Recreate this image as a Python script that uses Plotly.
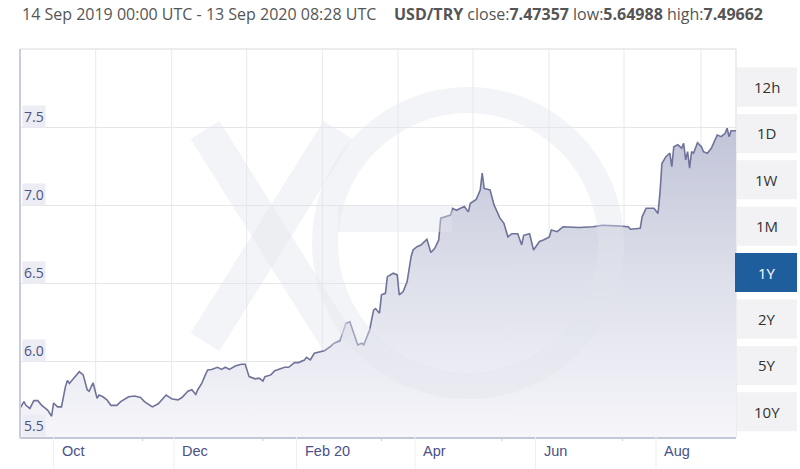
import plotly.graph_objects as go

# ---------------- data ----------------
dates = [
    "2019-09-14", "2019-09-16", "2019-09-17", "2019-09-19", "2019-09-21", "2019-09-23", "2019-09-25",
    "2019-09-28", "2019-09-30", "2019-10-01", "2019-10-03", "2019-10-05", "2019-10-07", "2019-10-08",
    "2019-10-09", "2019-10-11", "2019-10-13", "2019-10-14", "2019-10-16", "2019-10-18", "2019-10-19",
    "2019-10-21", "2019-10-23", "2019-10-24", "2019-10-26", "2019-10-28", "2019-10-30", "2019-11-02",
    "2019-11-04", "2019-11-08", "2019-11-11", "2019-11-14", "2019-11-16", "2019-11-20", "2019-11-23",
    "2019-11-27", "2019-11-30", "2019-12-03", "2019-12-05", "2019-12-08", "2019-12-10", "2019-12-12",
    "2019-12-13", "2019-12-15", "2019-12-17", "2019-12-18", "2019-12-20", "2019-12-23", "2019-12-25",
    "2019-12-27", "2019-12-29", "2020-01-01", "2020-01-04", "2020-01-06", "2020-01-08", "2020-01-11",
    "2020-01-13", "2020-01-15", "2020-01-16", "2020-01-19", "2020-01-21", "2020-01-23", "2020-01-26",
    "2020-01-28", "2020-01-31", "2020-02-02", "2020-02-05", "2020-02-06", "2020-02-08", "2020-02-10",
    "2020-02-13", "2020-02-15", "2020-02-18", "2020-02-20", "2020-02-23", "2020-02-24", "2020-02-26",
    "2020-02-28", "2020-03-01", "2020-03-03", "2020-03-05", "2020-03-06", "2020-03-09", "2020-03-11",
    "2020-03-12", "2020-03-14", "2020-03-15", "2020-03-17", "2020-03-18", "2020-03-21", "2020-03-23",
    "2020-03-24", "2020-03-26", "2020-03-28", "2020-03-30", "2020-03-31", "2020-04-02", "2020-04-04",
    "2020-04-07", "2020-04-09", "2020-04-11", "2020-04-13", "2020-04-14", "2020-04-17", "2020-04-19",
    "2020-04-20", "2020-04-22", "2020-04-24", "2020-04-26", "2020-04-28", "2020-04-29", "2020-05-02",
    "2020-05-04", "2020-05-05", "2020-05-06", "2020-05-09", "2020-05-11", "2020-05-14", "2020-05-16",
    "2020-05-18", "2020-05-20", "2020-05-23", "2020-05-25", "2020-05-26", "2020-05-29", "2020-05-31",
    "2020-06-03", "2020-06-05", "2020-06-08", "2020-06-09", "2020-06-12", "2020-06-15", "2020-06-23",
    "2020-06-30", "2020-07-05", "2020-07-12", "2020-07-18", "2020-07-19", "2020-07-24", "2020-07-25",
    "2020-07-27", "2020-07-31", "2020-08-02", "2020-08-03", "2020-08-04", "2020-08-06", "2020-08-08",
    "2020-08-09", "2020-08-10", "2020-08-12", "2020-08-14", "2020-08-15", "2020-08-16", "2020-08-17",
    "2020-08-18", "2020-08-19", "2020-08-20", "2020-08-22", "2020-08-24", "2020-08-25", "2020-08-27",
    "2020-08-29", "2020-08-30", "2020-09-01", "2020-09-03", "2020-09-05", "2020-09-06", "2020-09-07",
    "2020-09-08", "2020-09-11", "2020-09-13",
]
rates = [
    5.700, 5.744, 5.720, 5.700, 5.750, 5.750, 5.720,
    5.690, 5.650, 5.735, 5.710, 5.710, 5.840, 5.880,
    5.860, 5.890, 5.915, 5.936, 5.915, 5.820, 5.810,
    5.865, 5.765, 5.786, 5.775, 5.755, 5.720, 5.720,
    5.744, 5.775, 5.780, 5.770, 5.744, 5.710, 5.730,
    5.786, 5.760, 5.755, 5.770, 5.810, 5.820, 5.790,
    5.820, 5.860, 5.920, 5.947, 5.950, 5.964, 5.950,
    5.964, 5.950, 5.972, 5.983, 5.983, 5.904, 5.890,
    5.894, 5.876, 5.904, 5.915, 5.942, 5.950, 5.964,
    5.964, 5.994, 5.994, 6.010, 6.028, 6.011, 6.054,
    6.064, 6.069, 6.096, 6.118, 6.135, 6.170, 6.246,
    6.256, 6.182, 6.107, 6.118, 6.107, 6.203, 6.330,
    6.340, 6.310, 6.428, 6.438, 6.545, 6.567, 6.556,
    6.428, 6.449, 6.513, 6.673, 6.716, 6.737, 6.748,
    6.785, 6.700, 6.727, 6.780, 6.920, 6.930, 6.940,
    6.983, 6.970, 6.983, 6.994, 6.960, 7.015, 7.040,
    7.100, 7.208, 7.110, 7.100, 7.005, 6.920, 6.887,
    6.800, 6.820, 6.820, 6.748, 6.810, 6.820, 6.716,
    6.770, 6.780, 6.800, 6.844, 6.833, 6.865, 6.860,
    6.865, 6.874, 6.870, 6.865, 6.849, 6.855, 6.930,
    6.983, 6.983, 6.950, 7.080, 7.270, 7.314, 7.336,
    7.250, 7.378, 7.390, 7.368, 7.400, 7.293, 7.346,
    7.240, 7.346, 7.336, 7.404, 7.378, 7.346, 7.336,
    7.368, 7.400, 7.453, 7.442, 7.464, 7.496, 7.442,
    7.480, 7.480, 7.47357,
]

y_ticks = [6.0, 6.5, 7.0, 7.5]
y_labels = ["6.0", "6.5", "7.0", "7.5"]
y_bottom_label = "5.5"
x_tick_dates = ["2019-10-01", "2019-12-01", "2020-02-01", "2020-04-01", "2020-06-01", "2020-08-01"]
x_tick_labels = ["Oct", "Dec", "Feb 20", "Apr", "Jun", "Aug"]
x_minor_dates = ["2019-11-15", "2020-01-15", "2020-03-15", "2020-05-15", "2020-07-15"]
buttons = ["12h", "1D", "1W", "1M", "1Y", "2Y", "5Y", "10Y"]
active_button = "1Y"
header_range = "14 Sep 2019 00:00 UTC - 13 Sep 2020 08:28 UTC"
header_stats = "<b>USD/TRY</b> close:<b>7.47357</b> low:<b>5.64988</b> high:<b>7.49662</b>"

# ---------------- layout geometry (page pixels) ----------------
W, H = 800, 469
L, R, T, B = 20, 736, 49, 437
PW, PH = R - L, B - T


def px(x):
    return (x - L) / PW


def py(y):
    return (B - y) / PH


FONT = "Open Sans, Noto Sans, sans-serif"
shapes = []
annotations = []

# vertical gridlines
for gx in [95.7, 171.7, 246.7, 322.3, 398, 473, 549, 624, 701]:
    shapes.append(dict(type="line", xref="paper", yref="paper", x0=px(gx), x1=px(gx), y0=0, y1=1,
                       line=dict(color="#e8e8ea", width=1), layer="below"))
# border top/right
shapes.append(dict(type="line", xref="paper", yref="paper", x0=0, x1=1, y0=1, y1=1,
                   line=dict(color="#e6e6e8", width=1.5), layer="below"))
shapes.append(dict(type="line", xref="paper", yref="paper", x0=1, x1=1, y0=0, y1=1,
                   line=dict(color="#e6e6e8", width=1.5), layer="below"))

# watermark (xe logo), translucent
wm = "rgba(226,228,237,0.42)"
shapes.append(dict(type="circle", xref="paper", yref="paper",
                   x0=px(468 - 143), x1=px(468 + 143), y0=py(243 + 143), y1=py(243 - 143),
                   line=dict(color=wm, width=26), layer="above"))
shapes.append(dict(type="rect", xref="paper", yref="paper",
                   x0=px(338), x1=px(452), y0=py(232), y1=py(206),
                   fillcolor=wm, line=dict(width=0), layer="above"))
shapes.append(dict(type="line", xref="paper", yref="paper",
                   x0=px(205), x1=px(338), y0=py(130), y1=py(342),
                   line=dict(color=wm, width=34), layer="above"))
shapes.append(dict(type="line", xref="paper", yref="paper",
                   x0=px(338), x1=px(205), y0=py(130), y1=py(342),
                   line=dict(color=wm, width=34), layer="above"))

# left axis line
shapes.append(dict(type="line", xref="paper", yref="paper", x0=0, x1=0, y0=py(438), y1=1,
                   line=dict(color="#c9cce0", width=2), layer="above"))

# month separator lines and minor ticks under axis
for d in x_tick_dates:
    shapes.append(dict(type="line", xref="x", yref="paper", x0=d, x1=d, y0=py(H), y1=0,
                       line=dict(color="#efeff1", width=1)))
for d in x_minor_dates:
    shapes.append(dict(type="line", xref="x", yref="paper", x0=d, x1=d, y0=py(441), y1=0,
                       line=dict(color="#c8cad6", width=1)))

# x labels
for d, t in zip(x_tick_dates, x_tick_labels):
    annotations.append(dict(x=d, y=py(451), xref="x", yref="paper", text=t, showarrow=False,
                            xanchor="left", yanchor="middle", xshift=6,
                            font=dict(family="Liberation Sans Narrow, Arial, sans-serif", size=14.5,
                                      color="#4a5088")))

# y labels inside plot
for v, t in zip(y_ticks, y_labels):
    annotations.append(dict(x=px(22), y=v, xref="paper", yref="y", text=t, showarrow=False,
                            xanchor="left", yanchor="bottom", yshift=0,
                            bgcolor="#ebecf4", borderpad=1,
                            font=dict(family=FONT, size=14, color="#4d5282")))
annotations.append(dict(x=px(22), y=py(437), xref="paper", yref="paper", text=y_bottom_label,
                        showarrow=False, xanchor="left", yanchor="bottom",
                        bgcolor="#ebecf4", borderpad=1,
                        font=dict(family=FONT, size=14, color="#4d5282")))

# header
annotations.append(dict(x=px(20), y=py(14), xref="paper", yref="paper", text=header_range,
                        showarrow=False, xanchor="left", yanchor="middle",
                        font=dict(family=FONT, size=16, color="#555555")))
annotations.append(dict(x=px(392), y=py(14), xref="paper", yref="paper", text=header_stats,
                        showarrow=False, xanchor="left", yanchor="middle",
                        font=dict(family=FONT, size=16, color="#555555")))

# range buttons
for i, b in enumerate(buttons):
    cy = 87 + i * 46.4
    active = b == active_button
    shapes.append(dict(type="rect", xref="paper", yref="paper",
                       x0=px(735 if active else 737), x1=px(797),
                       y0=py(cy + 19.5), y1=py(cy - 19.5),
                       fillcolor="#1f5e9c" if active else "#f2f2f4", line=dict(width=0), layer="above"))
    annotations.append(dict(x=px(766.5), y=py(cy), xref="paper", yref="paper", text=b, showarrow=False,
                            xanchor="center", yanchor="middle",
                            font=dict(family=FONT, size=15, color="#ffffff" if active else "#333333")))

fig = go.Figure()
fig.add_trace(go.Scatter(x=dates, y=[5.4] * len(dates), mode="lines", line=dict(width=0),
                         hoverinfo="skip", showlegend=False))
fig.add_trace(go.Scatter(
    x=dates, y=rates, mode="lines", fill="tonexty",
    line=dict(color="#6f7399", width=1.6),
    fillgradient=dict(type="vertical", start=5.5, stop=7.6,
                      colorscale=[[0, "rgba(246,246,250,1)"], [0.5, "rgba(221,223,234,1)"],
                                  [1, "rgba(190,193,214,1)"]]),
    showlegend=False, name="USD/TRY"))

fig.update_layout(
    width=W, height=H,
    margin=dict(l=L, r=W - R, t=T, b=H - B),
    paper_bgcolor="white", plot_bgcolor="white",
    showlegend=False,
    xaxis=dict(type="date", range=["2019-09-14", "2020-09-10 12:00"], showgrid=False,
               showticklabels=False, zeroline=False, showline=True, linecolor="#c4c7d8", linewidth=1.5,
               ticks=""),
    yaxis=dict(range=[5.517, 8.004], tickvals=y_ticks, showticklabels=False, showgrid=True,
               gridcolor="#e6e6e8", gridwidth=1, zeroline=False, showline=False, ticks=""),
    shapes=shapes, annotations=annotations,
)

fig.write_html("out.html", config={"displayModeBar": False},
               post_script="document.body.style.margin='0';document.body.style.overflow='hidden';")
